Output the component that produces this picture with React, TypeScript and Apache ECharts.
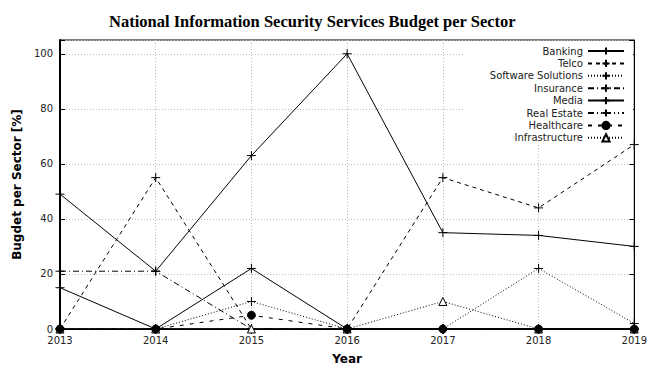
import React, { useEffect, useRef } from "react";
import * as echarts from "echarts";

const years = ["2013", "2014", "2015", "2016", "2017", "2018", "2019"];
const banking = [49, 21, 63, 100, 35, 34, 30];
const telco = [0, 55, 0, 0, 55, 44, 67];
const software = [0, 0, 10, 0, 0, 22, 2];
const insurance = [21, 21, 0, 0, 0, 0, 0];
const media = [15, 0, 22, 0, 0, 0, 0];
const realEstate = [0, 0, 0, 0, 0, 0, 0];
const healthcare = [0, 0, 5, 0, 0, 0, 0];
const infrastructure = [0, 0, 0, 0, 10, 0, 0];
const yTicks = [0, 20, 40, 60, 80, 100];

const PLUS = "path://M0,5L10,5M5,0L5,10";

export default function App() {
  const ref = useRef<HTMLDivElement>(null);
  useEffect(() => {
    if (!ref.current) return;
    const chart = echarts.init(ref.current, undefined, { renderer: "svg" });
    const font = "DejaVu Sans";
    const mk = (
      name: string,
      data: number[],
      dash: any,
      symbol: string,
      symbolSize: number,
      fill: string,
      z: number
    ) => ({
      name,
      type: "line",
      data,
      symbol,
      symbolSize,
      showAllSymbol: true,
      z,
      lineStyle: { color: "#000", width: 1, type: dash },
      itemStyle: { color: fill, borderColor: "#000", borderWidth: 1 },
      emphasis: { disabled: true },
    });
    const series = [
      mk("Banking", banking, "solid", PLUS, 9, "#000", 3),
      mk("Telco", telco, [4, 4], PLUS, 9, "#000", 3),
      mk("Software Solutions", software, [1, 2], PLUS, 9, "#000", 3),
      mk("Insurance", insurance, [6, 3, 1, 3], PLUS, 9, "#000", 3),
      mk("Media", media, "solid", PLUS, 9, "#000", 3),
      mk("Real Estate", realEstate, [6, 3, 1, 3, 1, 3], PLUS, 9, "#000", 3),
      mk("Healthcare", healthcare, [4, 6], "circle", 8, "#000", 4),
      mk("Infrastructure", infrastructure, [1, 2], "triangle", 8, "#fff", 3),
    ];
    const names = series.map((s) => s.name);
    const centers = [53, 65.4, 77.8, 90.2, 102.6, 115, 127.4, 139.8];
    const legends = names.map((n, i) => ({
      data: [n],
      orient: "vertical",
      right: 25,
      top: centers[i] - 7,
      align: "right",
      itemWidth: 36,
      itemHeight: 9,
      padding: 0,
      itemGap: 0,
      selectedMode: false,
      textStyle: { fontFamily: font, fontSize: 10, color: "#222" },
    }));
    const tickSet = new Set(yTicks);
    chart.setOption({
      animation: false,
      backgroundColor: "#fff",
      title: {
        text: "National Information Security Services Budget per Sector",
        left: 104,
        top: 8,
        textStyle: {
          fontFamily: "Liberation Serif",
          fontWeight: "bold",
          fontSize: 16.5,
          color: "#000",
        },
      },
      legend: legends,
      graphic: [
        {
          type: "rect",
          z: 1,
          shape: { x: 465, y: 41, width: 168, height: 103 },
          style: { fill: "#fff" },
        },
      ],
      grid: {
        left: 60,
        right: 14,
        top: 40,
        bottom: 40,
        show: true,
        borderColor: "#000",
        borderWidth: 1,
        backgroundColor: "transparent",
      },
      xAxis: [
        {
          type: "category",
          data: years,
          boundaryGap: false,
          name: "Year",
          nameLocation: "middle",
          nameGap: 24,
          nameTextStyle: { fontFamily: font, fontSize: 12, fontWeight: "bold", color: "#000" },
          axisLine: { lineStyle: { color: "#000", width: 1.5 } },
          axisTick: { inside: true, length: 5, lineStyle: { color: "#000" } },
          axisLabel: { fontFamily: font, fontSize: 10, color: "#222", margin: 6 },
          splitLine: { show: true, lineStyle: { color: "#bbb", type: [1, 2], width: 1 } },
        },
        {
          type: "category",
          data: years,
          boundaryGap: false,
          position: "top",
          axisLine: { lineStyle: { color: "#000", width: 1 } },
          axisTick: { inside: true, length: 5, lineStyle: { color: "#000" } },
          axisLabel: { show: false },
          splitLine: { show: false },
        },
      ],
      yAxis: [
        {
          type: "value",
          min: 0,
          max: 105,
          interval: 20,
          name: "Bugdet per Sector [%]",
          nameLocation: "middle",
          nameGap: 36,
          nameTextStyle: { fontFamily: font, fontSize: 12, fontWeight: "bold", color: "#000" },
          axisLine: { show: true, lineStyle: { color: "#000", width: 2 } },
          axisTick: { show: true, inside: true, length: 5, lineStyle: { color: "#000" } },
          axisLabel: {
            fontFamily: font,
            fontSize: 10,
            color: "#222",
            margin: 7,
            formatter: (v: number) => (tickSet.has(v) ? String(v) : ""),
          },
          splitLine: { show: true, lineStyle: { color: "#bbb", type: [1, 2], width: 1 } },
        },
        {
          type: "value",
          min: 0,
          max: 105,
          interval: 20,
          position: "right",
          axisLine: { show: true, lineStyle: { color: "#000", width: 1 } },
          axisTick: { show: true, inside: true, length: 5, lineStyle: { color: "#000" } },
          axisLabel: { show: false },
          splitLine: { show: false },
        },
      ],
      series,
    });
    return () => chart.dispose();
  }, []);
  return (
    <div
      ref={ref}
      style={{ position: "fixed", left: 0, top: 0, width: 650, height: 370 }}
    />
  );
}
